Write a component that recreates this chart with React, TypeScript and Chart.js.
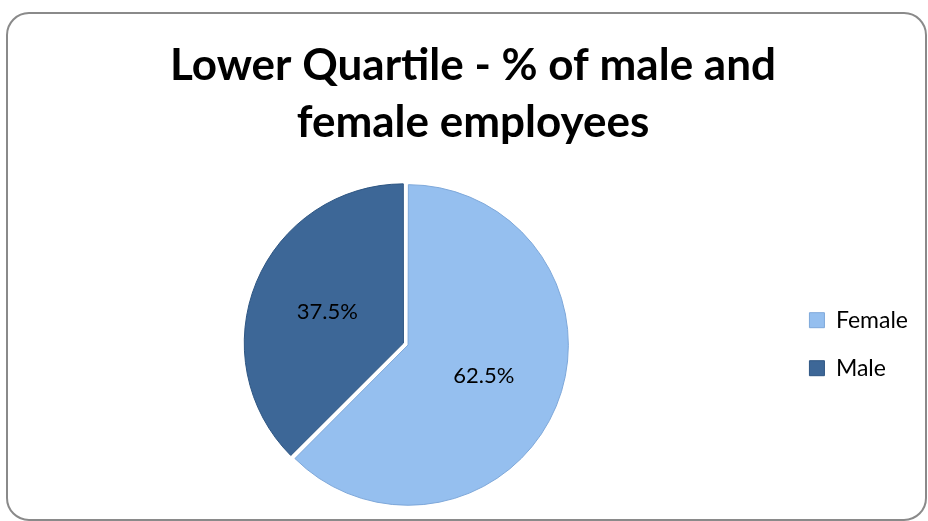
import React, { useEffect, useRef } from 'react';
import { Chart, registerables } from 'chart.js';

Chart.register(...registerables);

const categories = ['Female', 'Male'];
const values = [62.5, 37.5];
const valueLabels = ['62.5%', '37.5%'];
const titleLines = ['Lower Quartile - % of male and', 'female employees'];
const sliceColors = ['#95BFEF', '#3D6797'];
const sliceBorders = ['#7EA8DA', '#2E5683'];

const LABEL_RADIUS = [0.53, 0.54];

export default function App() {
  const ref = useRef<HTMLCanvasElement>(null);

  useEffect(() => {
    if (!ref.current) return;

    const framePlugin = {
      id: 'frame',
      beforeDraw(chart: any) {
        const ctx = chart.ctx as CanvasRenderingContext2D;
        ctx.save();
        ctx.fillStyle = '#ffffff';
        ctx.fillRect(0, 0, chart.width, chart.height);
        ctx.strokeStyle = '#8a8a8a';
        ctx.lineWidth = 2;
        ctx.beginPath();
        (ctx as any).roundRect(7, 13, 919, 507, 22);
        ctx.stroke();
        ctx.restore();
      },
    };

    const labelPlugin = {
      id: 'sliceLabels',
      afterDatasetsDraw(chart: any) {
        const ctx = chart.ctx as CanvasRenderingContext2D;
        const meta = chart.getDatasetMeta(0);
        ctx.save();
        ctx.font = '22px Lato';
        ctx.fillStyle = '#000000';
        ctx.textAlign = 'center';
        ctx.textBaseline = 'middle';
        meta.data.forEach((arc: any, i: number) => {
          const p = arc.getProps(['x', 'y', 'startAngle', 'endAngle', 'outerRadius'], true);
          const mid = (p.startAngle + p.endAngle) / 2;
          const r = p.outerRadius * LABEL_RADIUS[i];
          ctx.fillText(valueLabels[i], p.x + Math.cos(mid) * r, p.y + Math.sin(mid) * r);
        });
        ctx.restore();
      },
    };

    const chart = new Chart(ref.current, {
      type: 'pie',
      data: {
        labels: categories,
        datasets: [
          {
            data: values,
            backgroundColor: sliceColors,
            borderColor: sliceBorders,
            borderWidth: 1,
            offset: [8, 12],
          },
        ],
      },
      options: {
        responsive: false,
        animation: false,
        layout: { padding: { left: 28, right: 10, top: 0, bottom: 12 } },
        plugins: {
          title: {
            display: true,
            text: titleLines,
            color: '#000000',
            font: { family: 'Lato', size: 44, weight: 'bold', lineHeight: 1.3 },
            padding: { top: 37, bottom: 28 },
          },
          legend: {
            position: 'right',
            fullSize: false,
            labels: {
              boxWidth: 15,
              boxHeight: 15,
              padding: 25,
              color: '#000000',
              font: { family: 'Lato', size: 23 },
            },
          },
          tooltip: { enabled: false },
        },
      } as any,
      plugins: [framePlugin, labelPlugin],
    });

    return () => chart.destroy();
  }, []);

  return (
    <div style={{ position: 'absolute', left: 0, top: 0, width: 928, height: 521, background: '#fff' }}>
      <canvas ref={ref} width={928} height={521} style={{ display: 'block' }} />
    </div>
  );
}
